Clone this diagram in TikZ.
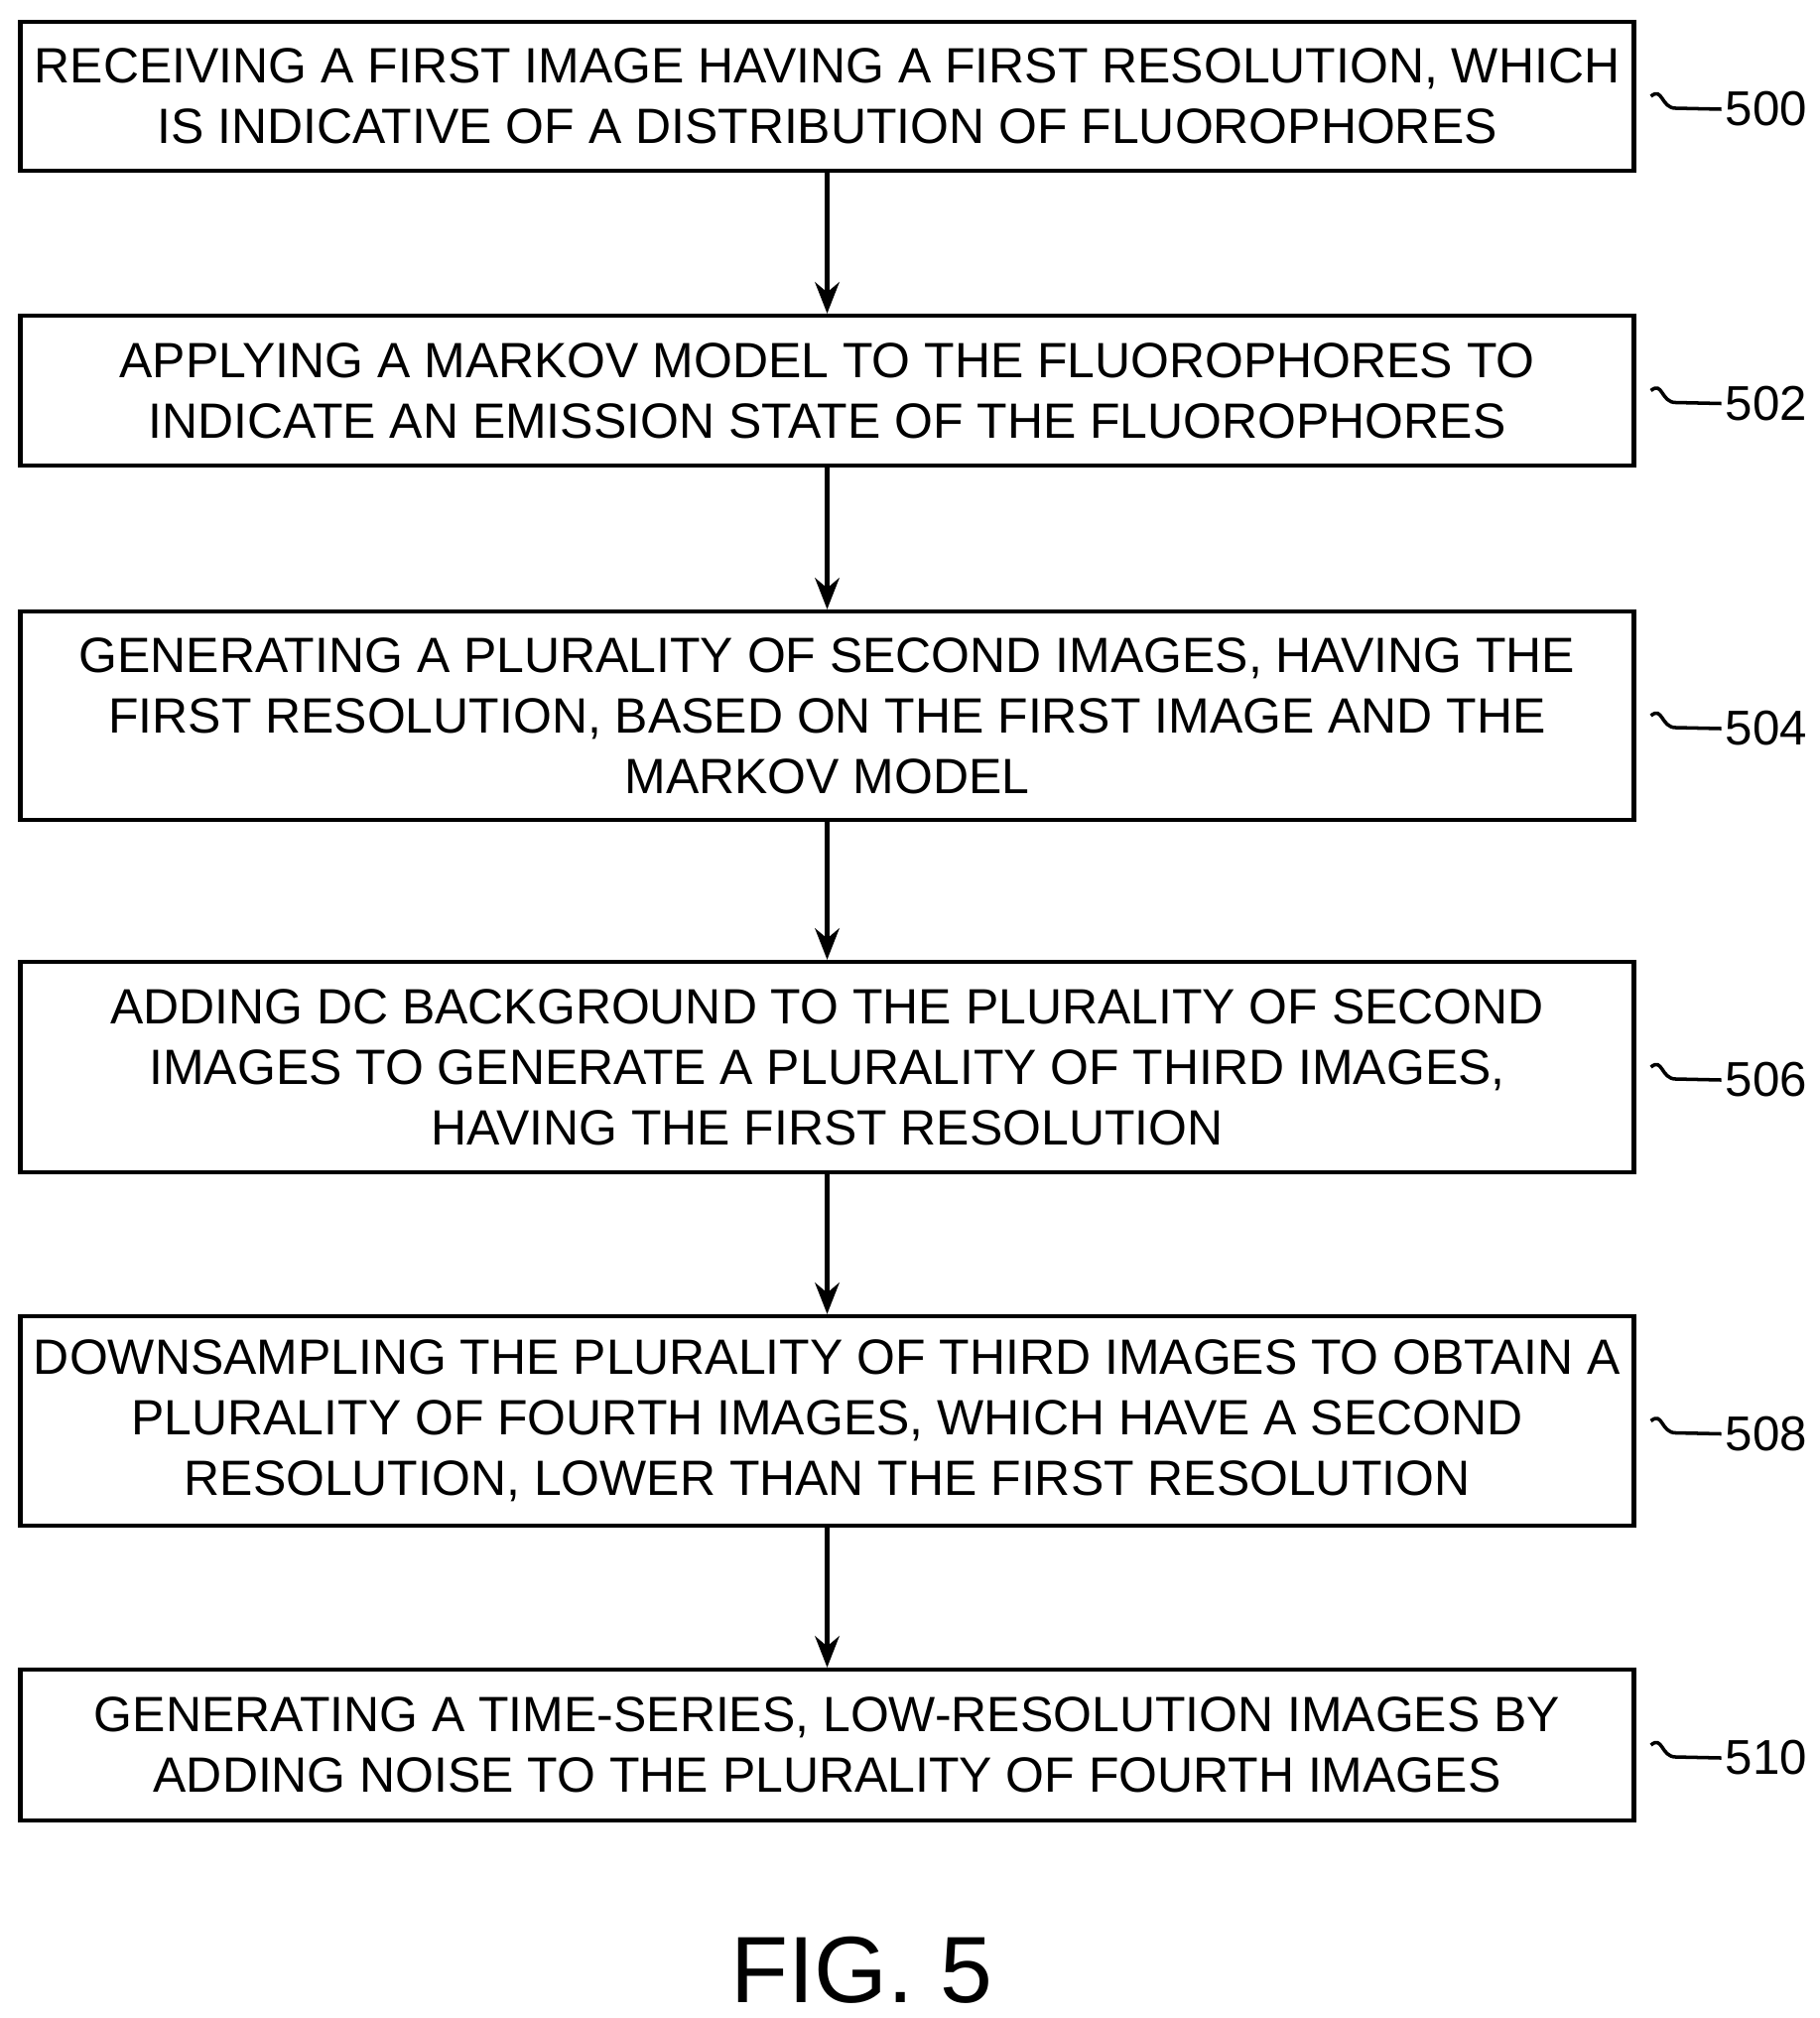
\documentclass[tikz,border=0pt]{standalone}
\usetikzlibrary{arrows.meta}
\usepackage{fontspec}
\setmainfont{Liberation Sans}
\begin{document}
\begin{tikzpicture}[x=0.01cm,y=-0.01cm,
  box/.style={draw, line width=1.2pt, minimum width=16.25cm, align=center,
    font=\fontsize{14.2}{17.3}\selectfont, inner sep=0pt},
  flow/.style={->, line width=1.2pt, >={Stealth[length=9pt,width=7pt]}},
  ref/.style={font=\fontsize{14}{16}\selectfont, inner sep=1pt}]
\useasboundingbox (0,0) rectangle (1833,2033);
\node[box, minimum height=1.5cm] (s500) at (833.5,97) {RECEIVING A FIRST IMAGE HAVING A FIRST RESOLUTION, WHICH\\IS INDICATIVE OF A DISTRIBUTION OF FLUOROPHORES};
\node[box, minimum height=1.51cm] (s502) at (833.5,393.5) {APPLYING A MARKOV MODEL TO THE FLUOROPHORES TO\\INDICATE AN EMISSION STATE OF THE FLUOROPHORES};
\node[box, minimum height=2.1cm] (s504) at (833.5,721) {GENERATING A PLURALITY OF SECOND IMAGES, HAVING THE\\FIRST RESOLUTION, BASED ON THE FIRST IMAGE AND THE\\MARKOV MODEL};
\node[box, minimum height=2.12cm] (s506) at (833.5,1075) {ADDING DC BACKGROUND TO THE PLURALITY OF SECOND\\IMAGES TO GENERATE A PLURALITY OF THIRD IMAGES,\\HAVING THE FIRST RESOLUTION};
\node[box, minimum height=2.11cm] (s508) at (833.5,1431.5) {DOWNSAMPLING THE PLURALITY OF THIRD IMAGES TO OBTAIN A\\PLURALITY OF FOURTH IMAGES, WHICH HAVE A SECOND\\RESOLUTION, LOWER THAN THE FIRST RESOLUTION};
\node[box, minimum height=1.52cm] (s510) at (833.5,1758) {GENERATING A TIME-SERIES, LOW-RESOLUTION IMAGES BY\\ADDING NOISE TO THE PLURALITY OF FOURTH IMAGES};
% arrows
\foreach \a/\b in {s500/s502,s502/s504,s504/s506,s506/s508,s508/s510}
  \draw[flow] (\a) -- (\b);
% reference numerals
\foreach \s/\n in {s500/500,s502/502,s504/504,s506/506,s508/508,s510/510}{
  \node[ref, anchor=west] (l\n) at ([xshift=0.86cm,yshift=-0.13cm]\s.east) {\n};
  \draw[line width=1pt] ([xshift=0.15cm]\s.east) .. controls +(12,-10) and +(-15,0) .. ([xshift=0.4cm,yshift=-0.12cm]\s.east)
    -- (l\n.west);
}
\node[font=\fontsize{27}{30}\selectfont] (fig) at (868,1985) {FIG. 5};
\end{tikzpicture}
\end{document}
